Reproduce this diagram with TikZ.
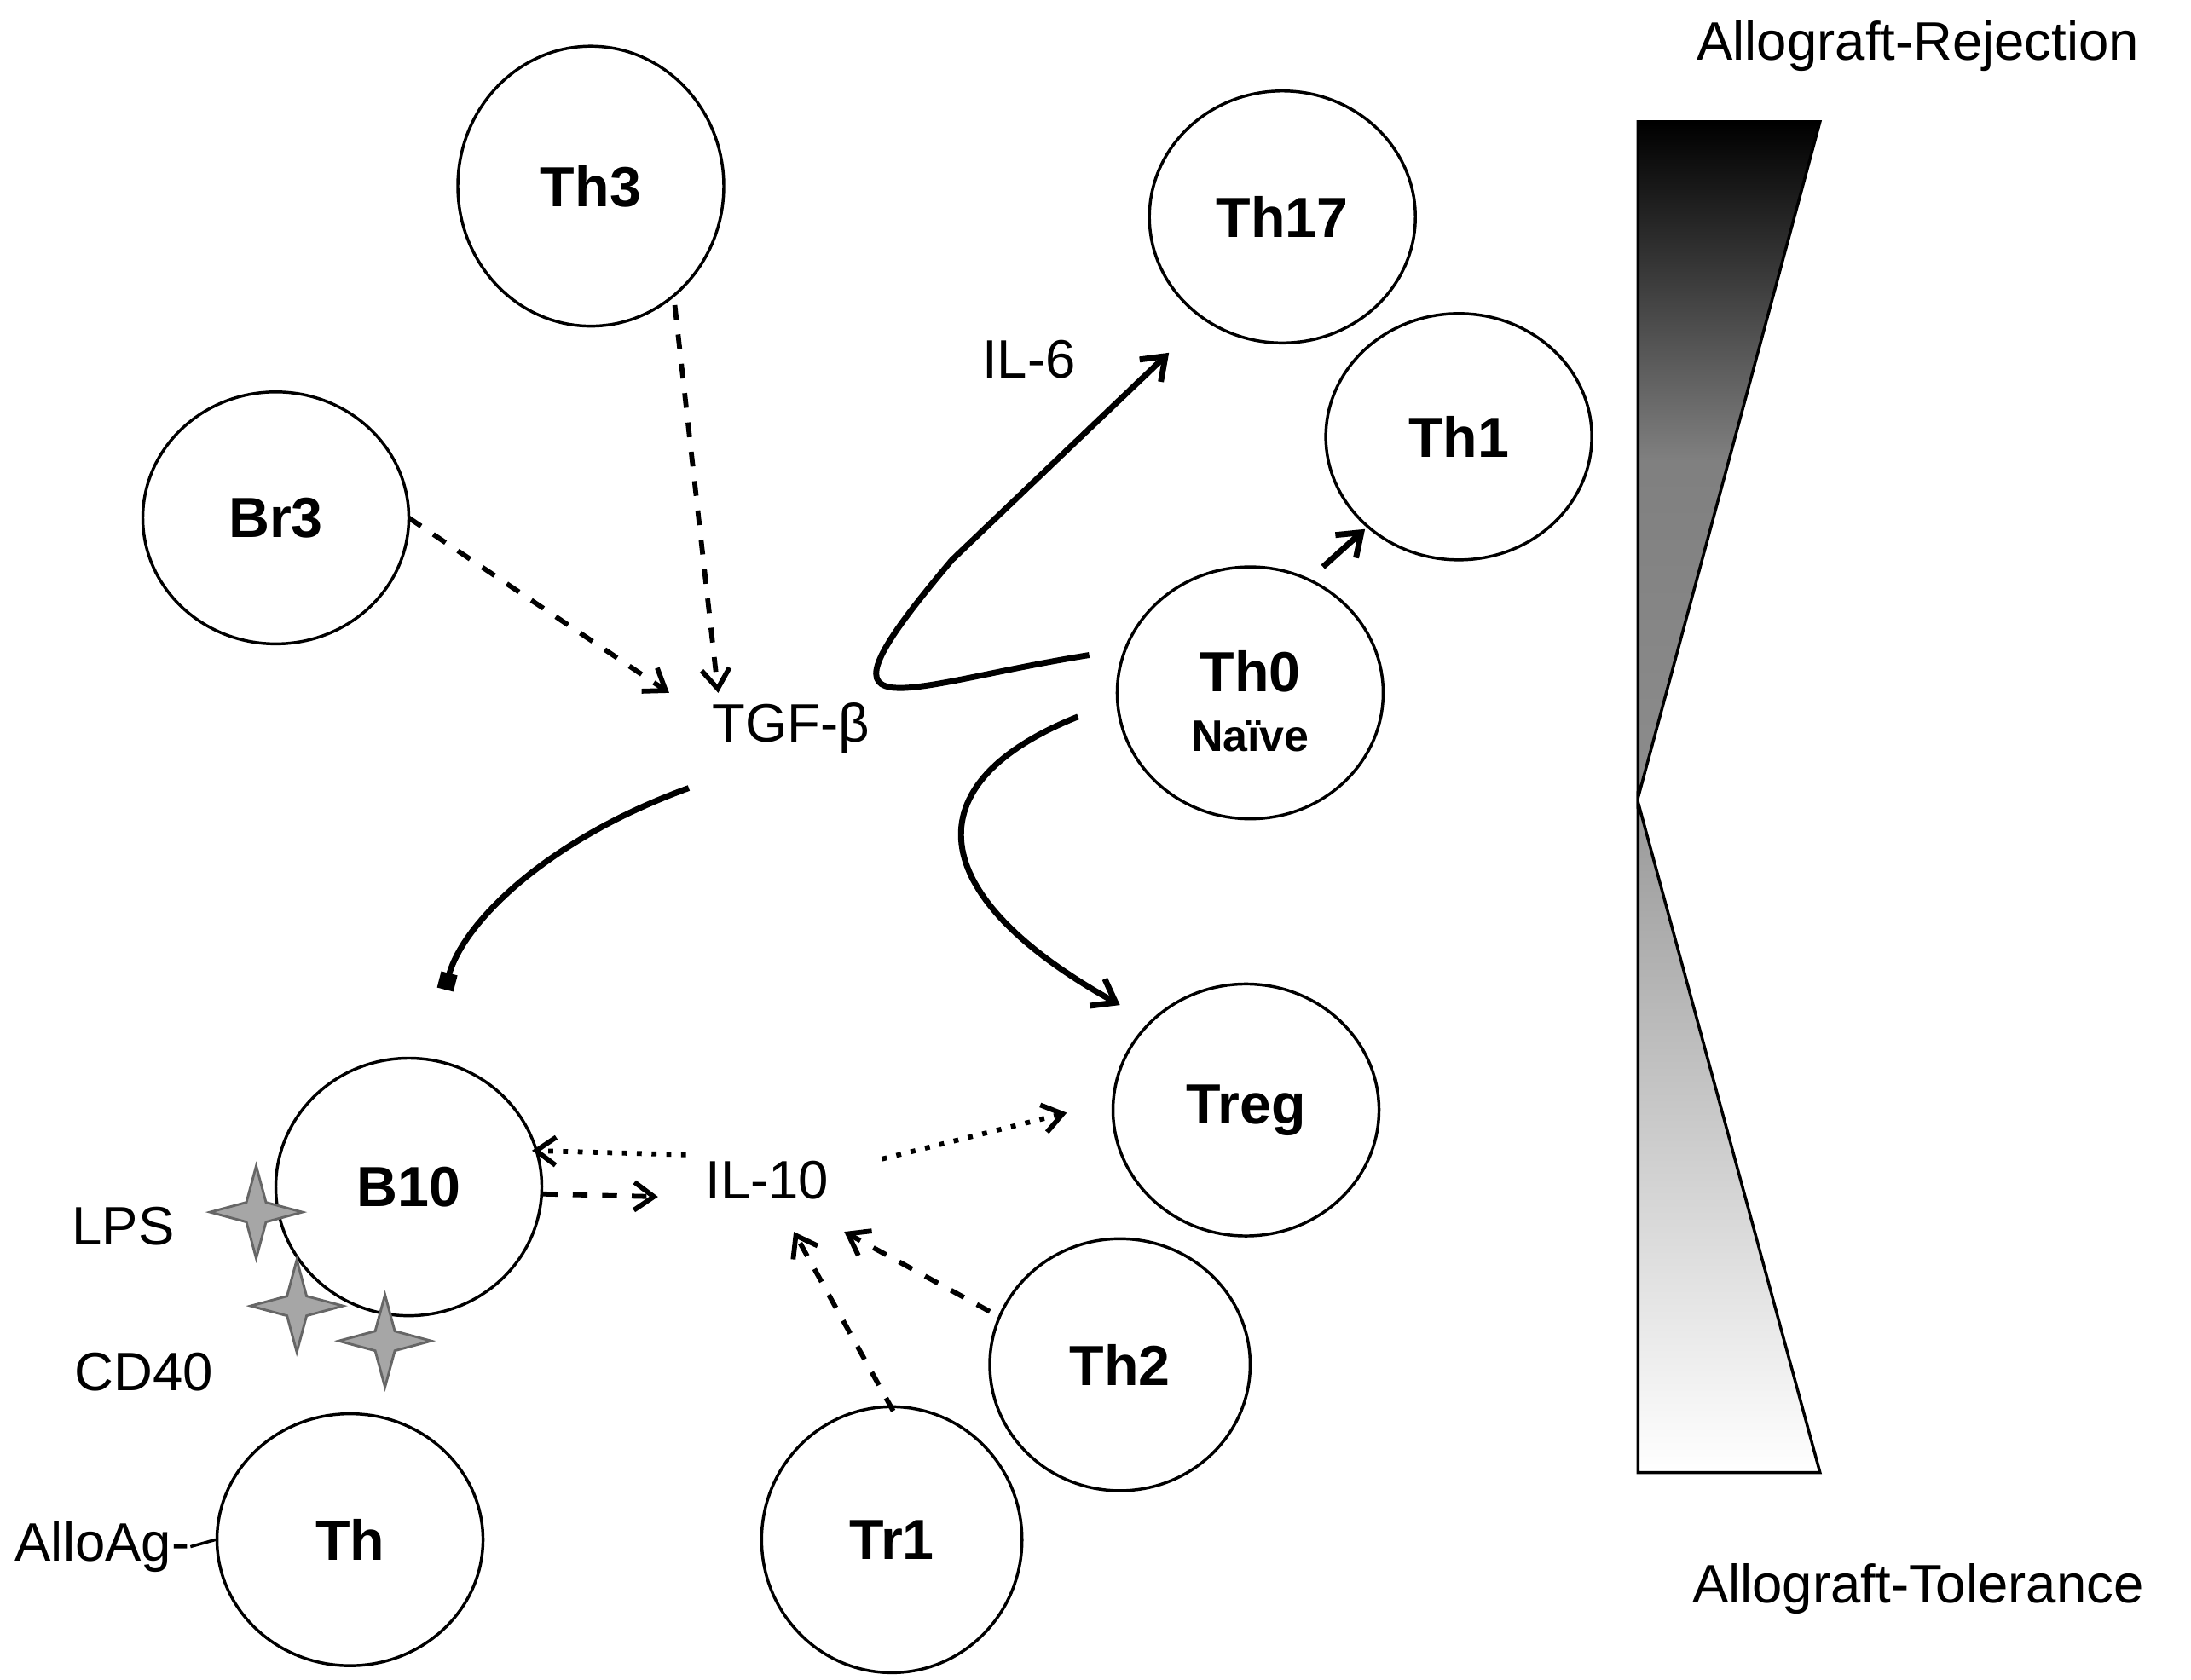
\documentclass[tikz,border=0pt]{standalone}
\usepackage{fontspec}
\setmainfont{Liberation Sans}
\usetikzlibrary{arrows.meta,shapes.geometric,shadings}
\begin{document}
\begin{tikzpicture}[x=0.1mm,y=-0.1mm,
 lab/.style={font=\fontsize{11}{13}\selectfont},
 dsh/.style={dashed,line width=1pt,-{Straight Barb[length=1.4mm,width=2mm]}},
 dot/.style={dotted,line width=1pt,-{Straight Barb[length=1.4mm,width=2mm]}},
 sol/.style={line width=1.2pt,-{Straight Barb[length=1.5mm,width=2.2mm]}},
 spark/.style={fill=gray!70,draw=black!60,line width=0.5pt}]
\useasboundingbox (0,0) rectangle (1565,1200);
\newcommand{\cel}[5]{\node[draw,line width=0.6pt,ellipse,minimum width=#4*0.2mm,minimum height=#5*0.2mm,inner sep=0pt] (#1) at (#2,#3) {};}
\newcommand{\sparkle}[1]{\draw[spark] (#1) ++(0,3.3mm) -- ++(-0.7mm,-2.6mm) -- ++(-2.6mm,-0.7mm) -- ++(2.6mm,-0.7mm) -- ++(0.7mm,-2.6mm) -- ++(0.7mm,2.6mm) -- ++(2.6mm,0.7mm) -- ++(-2.6mm,0.7mm) -- cycle;}
\cel{th3}{422}{133}{95}{100}
\cel{br3}{197}{370}{95}{90}
\cel{th17}{916}{155}{95}{90}
\cel{th1}{1042}{312}{95}{88}
\cel{th0}{893}{495}{95}{90}
\cel{treg}{890}{793}{95}{90}
\cel{b10}{292}{848}{95}{92}
\cel{th2}{800}{975}{93}{90}
\cel{tr1}{637}{1100}{93}{95}
\cel{th}{250}{1100}{95}{90}
\tikzset{bl/.style={font=\fontsize{11.5}{13}\selectfont\bfseries}}
\node[bl] at (th3) {Th3};
\node[bl] at (br3) {Br3};
\node[bl] at (th17) {Th17};
\node[bl] at (th1) {Th1};
\node[bl] at (893,480) {Th0};
\node[font=\fontsize{9}{11}\selectfont\bfseries] at (893,526) {Naïve};
\node[bl] at (treg) {Treg};
\node[bl] at (b10) {B10};
\node[bl] at (th2) {Th2};
\node[bl] at (tr1) {Tr1};
\node[bl] at (th) {Th};
\node[lab] (tgf) at (565,520) {TGF-β};
\node[lab] (il10) at (548,843) {IL-10};
\node[lab] at (735,257) {IL-6};
\node[lab] at (88,876) {LPS};
\node[lab] at (103,980) {CD40};
\node[lab,anchor=west,inner sep=0pt] (allo) at (10,1105) {AlloAg-};
\draw[line width=0.6pt] (allo.east) -- (th.west);
\coordinate (s1) at (183,866); \sparkle{s1}
\coordinate (s2) at (212,933); \sparkle{s2}
\coordinate (s3) at (275,958); \sparkle{s3}
\coordinate (a1) at (482,218); \coordinate (a2) at (513,495);
\draw[dsh] (a1) -- (a2);
\coordinate (b1) at (292,370); \coordinate (b2) at (478,495);
\draw[dsh] (b1) -- (b2);
\coordinate (c1) at (778,468); \coordinate (c2) at (835,252);
\draw[sol] (c1) .. controls (640,490) and (570,530) .. (680,400) -- (c2);
\coordinate (d1) at (945,405); \coordinate (d2) at (975,378);
\draw[sol] (d1) -- (d2);
\coordinate (e1) at (770,512); \coordinate (e2) at (800,718);
\draw[sol] (e1) .. controls (650,560) and (660,640) .. (e2);
\coordinate (f1) at (492,563); \coordinate (f2) at (318,707);
\draw[line width=1.2pt,-{Square[length=1.2mm,width=1.2mm]}] (f1) .. controls (390,600) and (330,660) .. (f2);
\coordinate (g1) at (490,825); \coordinate (g2) at (380,822);
\draw[dot] (g1) -- (g2);
\coordinate (h1) at (630,828); \coordinate (h2) at (762,795);
\draw[dot] (h1) -- (h2);
\coordinate (i1) at (388,853); \coordinate (i2) at (470,855);
\draw[dsh] (i1) -- (i2);
\coordinate (j1) at (638,1008); \coordinate (j2) at (567,880);
\draw[dsh] (j1) -- (j2);
\coordinate (k1) at (707,937); \coordinate (k2) at (603,880);
\draw[dsh] (k1) -- (k2);
\shade[top color=black,bottom color=gray!90,middle color=gray] (1170,87) -- (1300,87) -- (1170,570) -- cycle;
\draw[line width=0.6pt] (1170,87) -- (1300,87) -- (1170,570) -- cycle;
\shade[top color=gray!80,bottom color=white] (1170,573) -- (1170,1052) -- (1300,1052) -- cycle;
\draw[line width=0.6pt] (1170,573) -- (1170,1052) -- (1300,1052) -- cycle;
\node[lab] at (1370,33) {Allograft-Rejection};
\node[lab] at (1370,1135) {Allograft-Tolerance};
\end{tikzpicture}
\end{document}
